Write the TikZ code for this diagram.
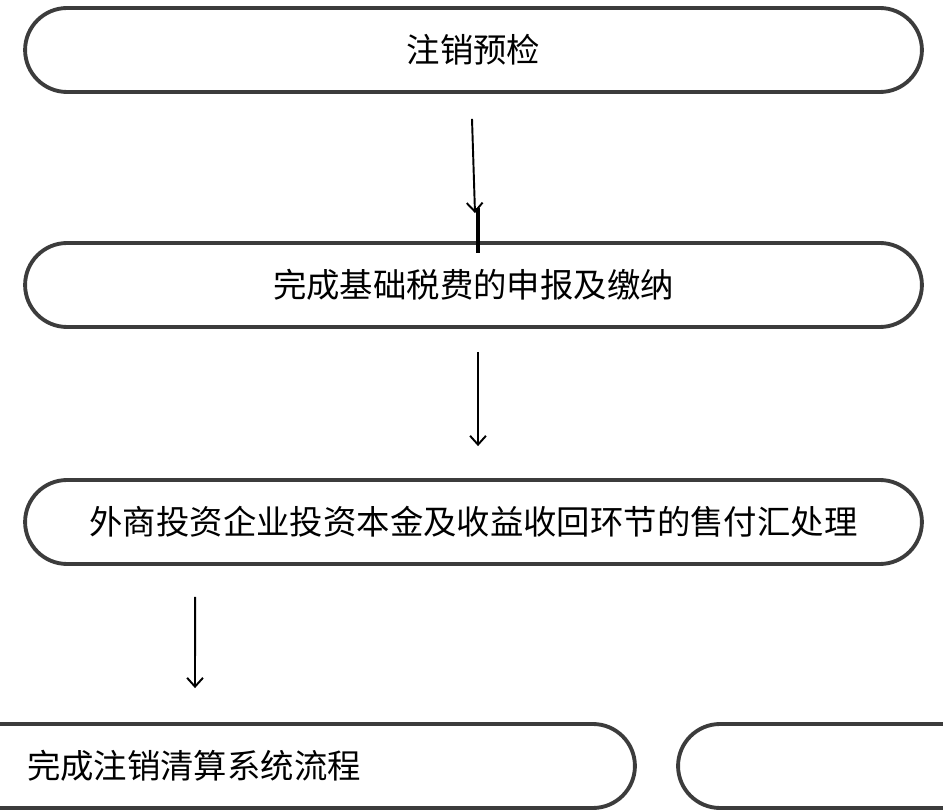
\documentclass[tikz,border=0pt]{standalone}
\usepackage{fontspec}
\newfontfamily\cjk{Noto Sans CJK SC}
\usetikzlibrary{arrows,arrows.meta,positioning}
\definecolor{boxgray}{HTML}{3C3C3C}

\begin{document}
\begin{tikzpicture}
[x=0.02cm, y=-0.02cm, line width=1pt,
  mybox/.style={rectangle, rounded corners=0.84cm, minimum width=17.94cm, minimum height=1.68cm, draw=boxgray, line width=2.2pt, font=\cjk\fontsize{19pt}{23pt}\selectfont},
  myarrow/.style={-{Straight Barb[length=5pt,width=9pt]}, line width=1.1pt, draw=black}
]
  \useasboundingbox (0,0) rectangle (943,810);
  \clip (0,0) rectangle (943,810);

  \node[mybox] (precheck) at (473.5,50) {注销预检};
  \node[mybox] (declare) at (473.5,285) {完成基础税费的申报及缴纳};
  \node[mybox] (foreign) at (473.5,522) {外商投资企业投资本金及收益收回环节的售付汇处理};
  \node[mybox, minimum width=13.9cm, inner xsep=1.74cm, text width=10.42cm, align=left] (settle) at (287.5,766) {完成注销清算系统流程};
  \node[mybox, minimum width=12cm] (next) at (978,766) {};

  \draw[myarrow] ([xshift=-0.03cm, yshift=-0.5cm]precheck.south) -- ([xshift=0.03cm, yshift=0.56cm]declare.north);
  \draw[line width=1.8pt] ([xshift=0.09cm, yshift=0.66cm]declare.north) -- ([xshift=0.09cm, yshift=-0.24cm]declare.north);
  \draw[myarrow] ([xshift=0.09cm, yshift=-0.46cm]declare.south) -- ([xshift=0.09cm, yshift=0.64cm]foreign.north);
  \draw[myarrow] ([xshift=-5.57cm, yshift=-0.62cm]foreign.south) -- ([xshift=-1.85cm, yshift=0.68cm]settle.north);
\end{tikzpicture}
\end{document}
